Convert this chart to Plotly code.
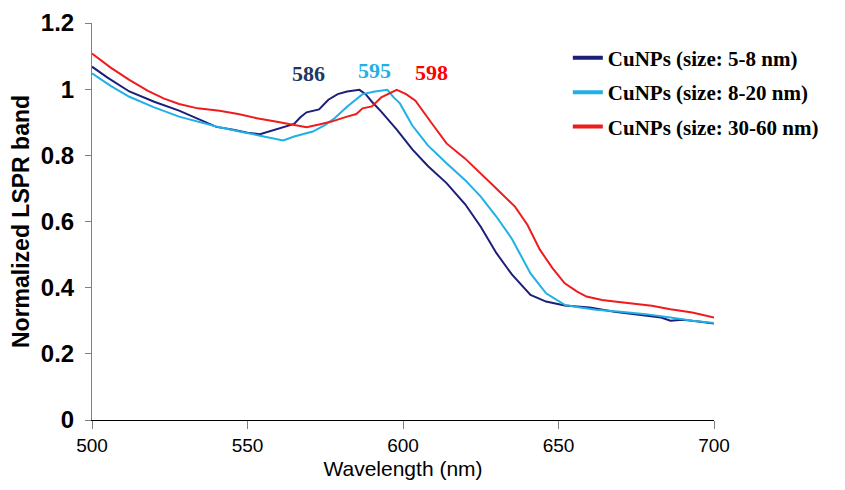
import plotly.graph_objects as go

# Normalized LSPR spectra of copper nanoparticles of three size ranges
wl_small = [500, 505, 512, 520, 528, 535, 540, 545, 550, 554, 558, 561, 565, 567, 569,
            573, 576, 579, 582, 586, 588, 590, 593, 598, 603, 608, 614, 620, 625, 630,
            635, 641, 646, 652, 660, 668, 676, 683, 686, 690, 695, 700]
ab_small = [1.068, 1.035, 0.993, 0.962, 0.935, 0.905, 0.886, 0.878, 0.868, 0.864, 0.875,
            0.882, 0.895, 0.915, 0.930, 0.939, 0.968, 0.985, 0.993, 0.998, 0.985, 0.962,
            0.932, 0.878, 0.818, 0.768, 0.716, 0.652, 0.584, 0.505, 0.440, 0.378, 0.358,
            0.346, 0.340, 0.327, 0.318, 0.310, 0.300, 0.303, 0.298, 0.292]

wl_mid = [500, 506, 512, 520, 528, 535, 540, 547, 554, 558, 561.5, 565, 571, 575, 578,
          582, 587, 591, 595, 597, 599, 603, 608, 614, 620, 625, 630, 635, 641, 646,
          652, 657, 662, 670, 678, 686, 693, 700]
ab_mid = [1.048, 1.010, 0.977, 0.945, 0.917, 0.900, 0.887, 0.873, 0.859, 0.852, 0.845,
          0.857, 0.872, 0.892, 0.912, 0.947, 0.985, 0.993, 0.998, 0.975, 0.957, 0.890,
          0.830, 0.776, 0.725, 0.675, 0.615, 0.548, 0.443, 0.383, 0.348, 0.340, 0.333,
          0.327, 0.320, 0.310, 0.300, 0.293]

wl_large = [500, 506, 512, 518, 523, 528, 534, 541, 547, 553, 559, 565, 569, 573, 577,
            582, 585, 587, 590, 593, 598, 601, 604, 609, 614, 620, 625, 630, 636, 640,
            644, 648, 652, 656, 659, 664, 668, 674, 680, 686, 693, 700]
ab_large = [1.108, 1.065, 1.028, 0.995, 0.972, 0.955, 0.942, 0.935, 0.925, 0.912, 0.902,
            0.892, 0.885, 0.893, 0.902, 0.917, 0.925, 0.942, 0.948, 0.975, 0.998, 0.985,
            0.965, 0.900, 0.836, 0.790, 0.746, 0.700, 0.645, 0.590, 0.515, 0.460, 0.413,
            0.388, 0.373, 0.363, 0.358, 0.352, 0.345, 0.335, 0.325, 0.310]

series_names = ["CuNPs (size: 5-8 nm)", "CuNPs (size: 8-20 nm)", "CuNPs (size: 30-60 nm)"]
peak_labels = ["586", "595", "598"]
series_colors = ["#1c1f78", "#1eb0e6", "#ee1c1c"]
label_colors = ["#1f3864", "#1eb0e6", "#ff0000"]

x_ticks = [500, 550, 600, 650, 700]
y_ticks = [0, 0.2, 0.4, 0.6, 0.8, 1, 1.2]
y_tick_text = ["0", "0.2", "0.4", "0.6", "0.8", "1", "1.2"]

fig = go.Figure()
data = [(wl_small, ab_small), (wl_mid, ab_mid), (wl_large, ab_large)]
for i, (wl, ab) in enumerate(data):
    fig.add_trace(go.Scatter(x=wl, y=ab, mode="lines", showlegend=False,
                             line=dict(color=series_colors[i], width=2)))
# legend entries with thicker swatches
for i, name in enumerate(series_names):
    fig.add_trace(go.Scatter(x=[None], y=[None], mode="lines", name=name,
                             legendgroup=str(i),
                             line=dict(color=series_colors[i], width=4)))

# peak wavelength labels placed above each curve
label_pos = [(569.5, 1.046), (590.8, 1.055), (609.1, 1.049)]
for txt, (lx, ly), col in zip(peak_labels, label_pos, label_colors):
    fig.add_annotation(x=lx, y=ly, text=txt, showarrow=False,
                       font=dict(family="Liberation Serif", size=22, color=col,
                                 weight="bold"))

fig.update_layout(
    width=845, height=490,
    margin=dict(l=92, r=131, t=23, b=70),
    paper_bgcolor="white", plot_bgcolor="white",
    font=dict(family="Liberation Sans", size=17, color="black"),
    legend=dict(x=0.765, y=0.963, xanchor="left", yanchor="top",
                traceorder="grouped", tracegroupgap=4,
                font=dict(family="Liberation Serif", size=21, color="black",
                          weight="bold"),
                bgcolor="rgba(0,0,0,0)"),
    xaxis=dict(range=[500, 700], tickvals=x_ticks, ticks="outside", ticklen=8,
               tickcolor="#808080", showline=True, linecolor="black", linewidth=1,
               showgrid=False, zeroline=False, automargin=False,
               tickfont=dict(family="Liberation Sans", size=19, color="black"),
               title=dict(text="Wavelength (nm)", standoff=6,
                          font=dict(family="Liberation Sans", size=21, color="black"))),
    yaxis=dict(range=[0, 1.2], tickvals=y_ticks, ticktext=y_tick_text,
               ticks="outside", ticklen=6, tickcolor="#808080",
               showline=True, linecolor="#808080", linewidth=1,
               showgrid=False, zeroline=False, ticklabelstandoff=6, automargin=False,
               tickfont=dict(family="Liberation Sans", size=24, color="black",
                             weight="bold"),
               title=dict(text="Normalized LSPR band", standoff=4,
                          font=dict(family="Liberation Sans", size=23,
                                    color="black", weight="bold"))),
)

fig.write_html("out.html")
